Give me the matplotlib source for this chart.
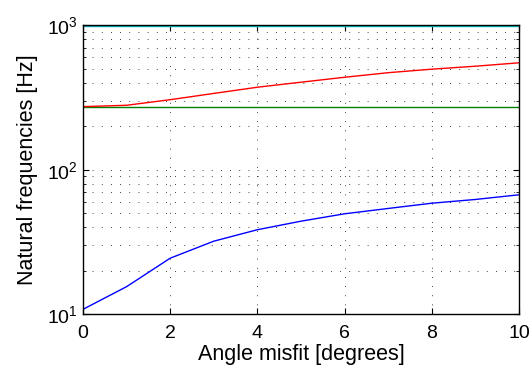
import numpy as np
import matplotlib
matplotlib.use("Agg")
import matplotlib.pyplot as plt
from matplotlib.ticker import LogLocator, NullFormatter

plt.rcParams["font.family"] = ["Liberation Sans", "DejaVu Sans"]

# angle misfit in degrees
angle = [0, 1, 2, 3, 4, 5, 6, 7, 8, 9, 10]

# natural frequencies (Hz), one list per mode
mode1 = [10.8, 15.5, 24.4, 32.0, 38.4, 44.0, 49.5, 53.9, 58.6, 62.2, 67.0]
mode2 = [272, 272, 272, 272, 272, 272, 272, 272, 272, 272, 272]
mode3 = [273, 279, 305, 337, 372, 403, 436, 469, 496, 520, 549]
mode4 = [985, 985, 985, 985, 985, 985, 985, 985, 985, 985, 985]
mode5 = [996, 998, 1002, 1010, 1020, 1030, 1040, 1050, 1060, 1070, 1080]

colors = ["#0000ff", "#008000", "#ff0000", "#00bfbf", "#bf00bf"]

fig = plt.figure(figsize=(5.32, 3.74), dpi=100)
ax = fig.add_axes([0.156, 0.160, 0.8196, 0.7727])

for ys, c in zip([mode1, mode2, mode3, mode4, mode5], colors):
    ax.plot(angle, ys, color=c, linewidth=1.0)

ax.set_yscale("log")
ax.set_xlim(0, 10)
ax.set_ylim(10, 1000)
ax.set_xticks([0, 2, 4, 6, 8, 10])
ax.yaxis.set_major_locator(LogLocator(base=10, numticks=5))
ax.yaxis.set_minor_locator(LogLocator(base=10, subs=np.arange(2, 10), numticks=10))
ax.yaxis.set_minor_formatter(NullFormatter())

dots = (0, (1, 10))
ax.grid(True, which="major", linestyle=dots, color="black", linewidth=0.6)
ax.grid(True, which="minor", axis="y", linestyle=dots, color="black", linewidth=0.6)
ax.tick_params(which="both", direction="in", top=True, right=True, labelsize=14)
ax.tick_params(which="major", length=4)
ax.tick_params(which="minor", length=2)
ax.tick_params(axis="x", pad=8)
for sp in ax.spines.values():
    sp.set_linewidth(1.0)

ax.set_xlabel("Angle misfit [degrees]", fontsize=15.5, labelpad=1)
ax.set_ylabel("Natural frequencies [Hz]", fontsize=15.5, labelpad=7)

fig.savefig("out.png", dpi=100, facecolor="white")
